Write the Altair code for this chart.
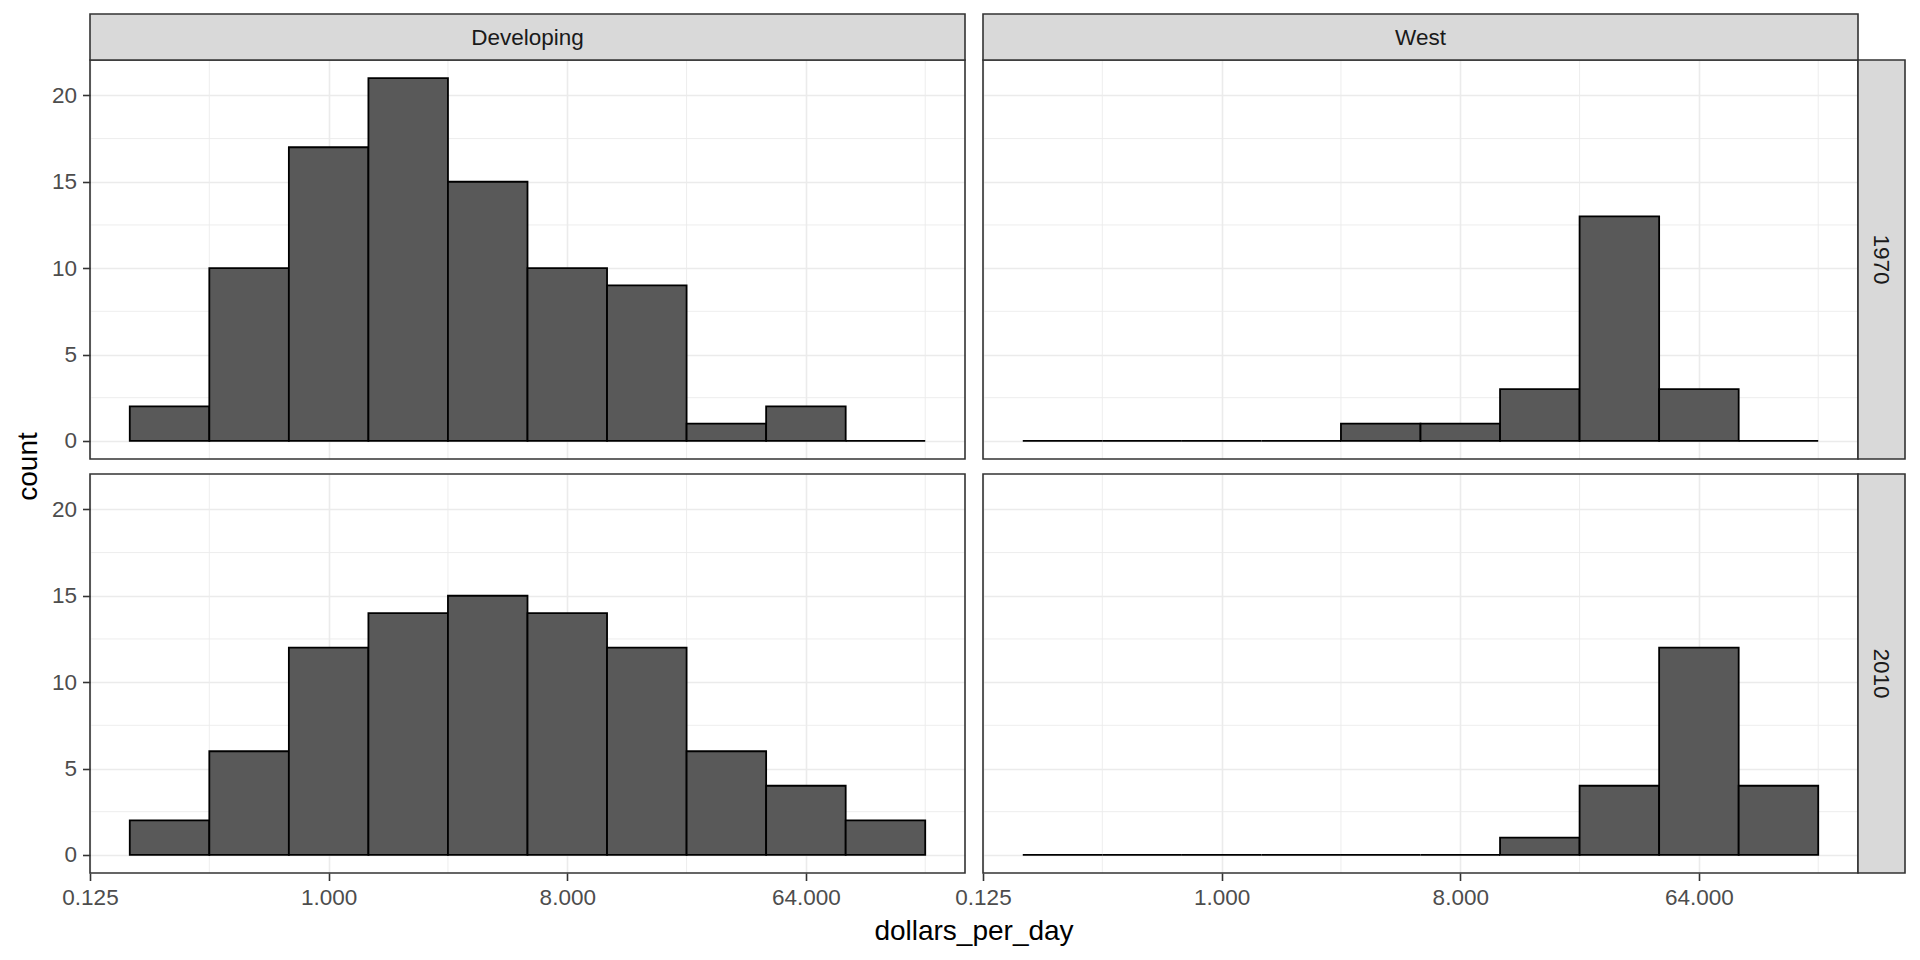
import altair as alt
import pandas as pd

# ---------------- data ----------------
BIN_LOG2_START = [-2.5, -1.5, -0.5, 0.5, 1.5, 2.5, 3.5, 4.5, 5.5, 6.5]
BIN_LOG2_END = [-1.5, -0.5, 0.5, 1.5, 2.5, 3.5, 4.5, 5.5, 6.5, 7.5]
GROUPS = ["Developing", "West"]
YEARS = ["1970", "2010"]
COUNT_DEVELOPING_1970 = [2, 10, 17, 21, 15, 10, 9, 1, 2, 0]
COUNT_WEST_1970 = [0, 0, 0, 0, 1, 1, 3, 13, 3, 0]
COUNT_DEVELOPING_2010 = [2, 6, 12, 14, 15, 14, 12, 6, 4, 2]
COUNT_WEST_2010 = [0, 0, 0, 0, 0, 0, 1, 4, 12, 4]
X_TICKS = [0.125, 1, 8, 64]
X_MINOR = [0.353553, 2.828427, 22.627417, 181.019336]
Y_TICKS = [0, 5, 10, 15, 20]
Y_MINOR = [2.5, 7.5, 12.5, 17.5]
X_DOMAIN = [0.125, 256]
Y_DOMAIN = [-1.05, 22.05]
X_TITLE = "dollars_per_day"
Y_TITLE = "count"

# ---------------- style ----------------
W, H = 875, 399
STRIP_H, STRIP_W = 46, 47
FONT = "Liberation Sans"
GRID = "#EBEBEB"
DARK = "#333333"
LABEL = "#4D4D4D"
STRIP_FILL = "#D9D9D9"
BAR_FILL = "#595959"

xscale = alt.Scale(type="log", base=2, domain=X_DOMAIN, nice=False)
yscale = alt.Scale(domain=Y_DOMAIN, nice=False, zero=False)
one = pd.DataFrame({"k": [0]})


def panel(group, year, counts, show_y, show_x, top_strip, right_strip, titles):
    df = pd.DataFrame({
        "lo": [2 ** v for v in BIN_LOG2_START],
        "hi": [2 ** v for v in BIN_LOG2_END],
        "count": counts,
    })
    xaxis = alt.Axis(values=X_TICKS, format=".3f", title=None, grid=True,
                     gridColor=GRID, gridWidth=1.6, domain=False,
                     labels=show_x, ticks=show_x, labelFlush=False,
                     labelOverlap=False, labelBound=False,
                     labelFont=FONT, labelFontSize=22.5, labelColor=LABEL,
                     tickColor=DARK, tickWidth=1.6, tickSize=7.5, labelPadding=6)
    yaxis = alt.Axis(values=Y_TICKS, title=None, grid=True,
                     gridColor=GRID, gridWidth=1.6, domain=False,
                     labels=show_y, ticks=show_y, labelFlush=False,
                     labelOverlap=False,
                     labelFont=FONT, labelFontSize=22.5, labelColor=LABEL,
                     tickColor=DARK, tickWidth=1.6, tickSize=7.5, labelPadding=6)

    bars = alt.Chart(df).mark_rect(
        fill=BAR_FILL, stroke="black", strokeWidth=1.8).encode(
        x=alt.X("lo:Q", scale=xscale, axis=xaxis),
        x2="hi:Q",
        y=alt.Y("count:Q", scale=yscale, axis=yaxis),
        y2=alt.datum(0),
    )

    minor_x = alt.Chart(pd.DataFrame({"lo": X_MINOR})).mark_rule(
        color=GRID, strokeWidth=0.9).encode(
        x=alt.X("lo:Q", scale=xscale, axis=xaxis))
    minor_y = alt.Chart(pd.DataFrame({"count": Y_MINOR})).mark_rule(
        color=GRID, strokeWidth=0.9).encode(
        y=alt.Y("count:Q", scale=yscale, axis=yaxis))

    border = alt.Chart(one).mark_rect(
        fill=None, fillOpacity=0, stroke=DARK, strokeWidth=1.6).encode(
        x=alt.value(0), x2=alt.value(W), y=alt.value(0), y2=alt.value(H))

    layers = [minor_x, minor_y, bars, border]

    if top_strip:
        layers.append(alt.Chart(one).mark_rect(
            fill=STRIP_FILL, stroke=DARK, strokeWidth=1.6).encode(
            x=alt.value(0), x2=alt.value(W),
            y=alt.value(-STRIP_H), y2=alt.value(0)))
        layers.append(alt.Chart(one).mark_text(
            font=FONT, fontSize=22.5, color="#1A1A1A",
            align="center", baseline="middle").encode(
            x=alt.value(W / 2), y=alt.value(-STRIP_H / 2 + 1),
            text=alt.value(group)))
    if right_strip:
        layers.append(alt.Chart(one).mark_rect(
            fill=STRIP_FILL, stroke=DARK, strokeWidth=1.6).encode(
            x=alt.value(W), x2=alt.value(W + STRIP_W),
            y=alt.value(0), y2=alt.value(H)))
        layers.append(alt.Chart(one).mark_text(
            font=FONT, fontSize=22.5, color="#1A1A1A", angle=90,
            align="center", baseline="middle").encode(
            x=alt.value(W + STRIP_W / 2 - 1), y=alt.value(H / 2),
            text=alt.value(year)))
    if titles:
        layers.append(alt.Chart(one).mark_text(
            font=FONT, fontSize=28, color="black", angle=270,
            align="center", baseline="middle").encode(
            x=alt.value(-61.5), y=alt.value(-7.5),
            text=alt.value(Y_TITLE)))
        layers.append(alt.Chart(one).mark_text(
            font=FONT, fontSize=28, color="black",
            align="center", baseline="alphabetic").encode(
            x=alt.value(884), y=alt.value(466),
            text=alt.value(X_TITLE)))

    return alt.layer(*layers).properties(width=W, height=H)


p11 = panel(GROUPS[0], YEARS[0], COUNT_DEVELOPING_1970, True, False, True, False, False)
p12 = panel(GROUPS[1], YEARS[0], COUNT_WEST_1970, False, False, True, True, False)
p21 = panel(GROUPS[0], YEARS[1], COUNT_DEVELOPING_2010, True, True, False, False, True)
p22 = panel(GROUPS[1], YEARS[1], COUNT_WEST_2010, False, True, False, True, False)

chart = alt.concat(
    p11, p12, p21, p22, columns=2,
    spacing={"row": 15, "column": 18}, bounds="flush",
).properties(
    padding={"left": 6, "top": 5, "right": 5, "bottom": 5},
    background="white",
).configure_view(stroke=None)

chart.save("out.html", embed_options={"renderer": "svg", "actions": False})
